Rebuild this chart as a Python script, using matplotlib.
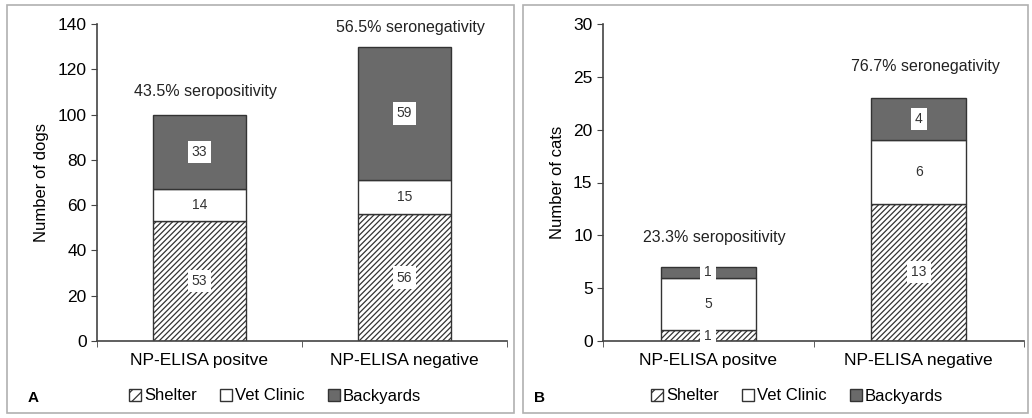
import matplotlib
matplotlib.use("Agg")
import matplotlib.pyplot as plt
from matplotlib.patches import Patch, Rectangle

# 数据
categories = ["NP-ELISA positve", "NP-ELISA negative"]
groups = ["Shelter", "Vet Clinic", "Backyards"]

dogs_shelter = [53, 56]
dogs_vet = [14, 15]
dogs_back = [33, 59]
dogs_notes = ["43.5% seropositivity", "56.5% seronegativity"]
dogs_note_y = [110, 138.5]

cats_shelter = [1, 13]
cats_vet = [5, 6]
cats_back = [1, 4]
cats_notes = ["23.3% seropositivity", "76.7% seronegativity"]
cats_note_y = [9.8, 26.0]

plt.rcParams["font.family"] = ["Liberation Sans", "DejaVu Sans"]
plt.rcParams["hatch.color"] = "#707070"
plt.rcParams["hatch.linewidth"] = 0.9

BACK_COLOR = "#6a6a6a"
EDGE = "#333333"
HATCH = "//////"
W, H = 1032, 418

fig = plt.figure(figsize=(W / 100, H / 100), dpi=100)

# 面板外框
for x0, x1 in [(7, 514), (523, 1028)]:
    fig.patches.append(Rectangle((x0 / W, 5 / H), (x1 - x0) / W, (413 - 5) / H,
                                 transform=fig.transFigure, fill=False,
                                 edgecolor="#b0b0b0", linewidth=1.2))


def draw_panel(rect, shelter, vet, back, notes, note_y, ymax, ystep, ylabel, letter, legend_x):
    ax = fig.add_axes(rect)
    xs = range(len(categories))
    bw = 0.45
    ax.bar(xs, shelter, bw, color="white", hatch=HATCH, edgecolor=EDGE, linewidth=1.0)
    ax.bar(xs, vet, bw, bottom=shelter, color="white", edgecolor=EDGE, linewidth=1.0)
    bottoms = [s + v for s, v in zip(shelter, vet)]
    ax.bar(xs, back, bw, bottom=bottoms, color=BACK_COLOR, edgecolor=EDGE, linewidth=1.0)

    box = dict(facecolor="white", edgecolor="none", pad=3.0)
    for i in xs:
        ax.text(i, shelter[i] / 2, str(shelter[i]), ha="center", va="center",
                fontsize=10, color="#333333", bbox=box)
        ax.text(i, shelter[i] + vet[i] / 2, str(vet[i]), ha="center", va="center",
                fontsize=10, color="#333333", bbox=box)
        ax.text(i, bottoms[i] + back[i] / 2, str(back[i]), ha="center", va="center",
                fontsize=10, color="#333333", bbox=box)
        ax.text(i + 0.03, note_y[i], notes[i], ha="center", va="center",
                fontsize=11.5, color="#222222")

    ax.set_xlim(-0.5, 1.5)
    ax.set_ylim(0, ymax)
    ax.set_yticks(range(0, ymax + 1, ystep))
    ax.set_xticks(list(xs))
    ax.set_xticklabels(categories, fontsize=12.5)
    ax.set_xticks([-0.5, 0.5, 1.5], minor=True)
    ax.tick_params(axis="x", which="major", length=0, pad=9)
    ax.tick_params(axis="x", which="minor", length=4, direction="out", color="#444444")
    ax.tick_params(axis="y", labelsize=12.5, length=4, direction="out", color="#444444")
    for s in ["top", "right"]:
        ax.spines[s].set_visible(False)
    for s in ["left", "bottom"]:
        ax.spines[s].set_color("#444444")
        ax.spines[s].set_linewidth(1.2)
    ax.set_ylabel(ylabel, fontsize=12, labelpad=6)

    handles = [Patch(facecolor="white", edgecolor=EDGE, hatch="///", label=groups[0]),
               Patch(facecolor="white", edgecolor=EDGE, label=groups[1]),
               Patch(facecolor=BACK_COLOR, edgecolor=EDGE, label=groups[2])]
    fig.legend(handles=handles, loc="center left", bbox_to_anchor=(legend_x / W, 1 - 396 / H),
               ncol=3, frameon=False, fontsize=12, handlelength=0.7, handleheight=0.7,
               handletextpad=0.2, columnspacing=1.4)
    fig.text(rect[0] - 69 / W, 1 - 398 / H, letter, fontsize=11, fontweight="bold",
             ha="left", va="center")
    return ax


draw_panel([97 / W, 77 / H, 410 / W, 317 / H], dogs_shelter, dogs_vet, dogs_back,
           dogs_notes, dogs_note_y, 140, 20, "Number of dogs", "A", 114)
draw_panel([603 / W, 77 / H, 421 / W, 317 / H], cats_shelter, cats_vet, cats_back,
           cats_notes, cats_note_y, 30, 5, "Number of cats", "B", 636)

fig.savefig("out.png", dpi=100)
